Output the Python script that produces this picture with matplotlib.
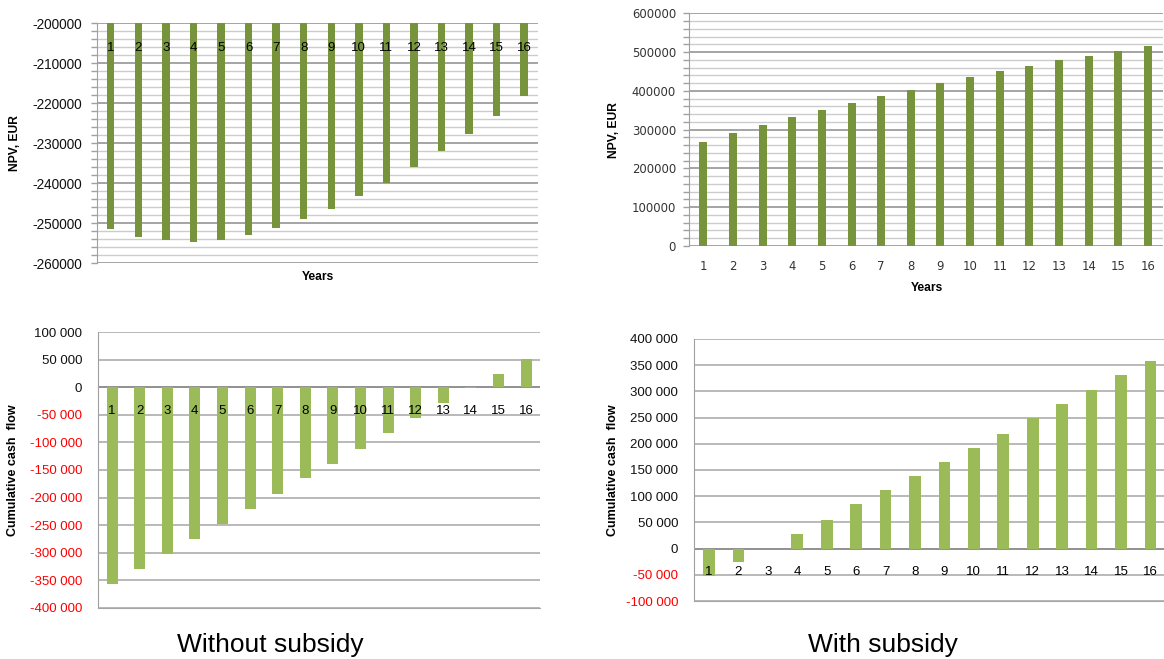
import matplotlib
matplotlib.use('Agg')
import matplotlib.pyplot as plt
from matplotlib.ticker import MultipleLocator
import numpy as np

plt.rcParams['font.family'] = ['Liberation Sans', 'DejaVu Sans']
plt.rcParams['axes.unicode_minus'] = False

years = list(range(1, 17))

# NPV, EUR (top row)
npv_no_subsidy = [-251500, -253500, -254300, -254600, -254100, -253000, -251250, -249000,
                  -246400, -243300, -240000, -235900, -231900, -227700, -223100, -218300]
npv_subsidy = [267000, 291000, 313000, 332000, 351000, 369000, 386000, 403000,
               420000, 436000, 450000, 465000, 479000, 491000, 503000, 515000]

# cumulative cash flow (bottom row)
cash_no_subsidy = [-356500, -329000, -303000, -275500, -247000, -220000, -192600, -165400,
                   -138800, -111600, -83200, -56000, -28200, -1600, 24400, 51600]
cash_subsidy = [-52800, -25400, -1000, 28000, 55300, 84600, 111300, 138700,
                165400, 192700, 219500, 248700, 276100, 302800, 330800, 357500]

dark_green = '#77933C'
light_green = '#9BBB59'
x = np.arange(len(years))


def space_fmt(v):
    return f"{v:,.0f}".replace(',', ' ')


fig = plt.figure(figsize=(11.64, 6.59), dpi=100)


def npv_axes(ax, ymin, ymax, major, minor):
    ax.set_xlim(-0.5, len(years) - 0.5)
    ax.set_ylim(ymin, ymax)
    ax.yaxis.set_major_locator(MultipleLocator(major))
    ax.yaxis.set_minor_locator(MultipleLocator(minor))
    ax.grid(which='major', axis='y', color='#8C8C8C', lw=1.1)
    ax.grid(which='minor', axis='y', color='#CCCCCC', lw=1.0)
    ax.set_axisbelow(True)
    for s in ['top', 'right', 'bottom']:
        ax.spines[s].set_visible(False)
    ax.spines['left'].set_color('#A0A0A0')
    ax.tick_params(axis='y', which='both', length=4, color='#A0A0A0', width=1)
    ax.tick_params(axis='x', length=0)


# --- top left: NPV without subsidy
ax1 = fig.add_axes([0.0833, 0.6005, 0.3789, 0.3642])
ax1.bar(x, npv_no_subsidy, width=0.27, color=dark_green, zorder=2)
npv_axes(ax1, -260000, -200000, 10000, 2000)
ax1.set_xticks([])
ax1.tick_params(axis='y', labelsize=9.8, labelcolor='#111111', pad=6.5)
for i, y in enumerate(years):
    ax1.text(i, 0.898, str(y), transform=ax1.get_xaxis_transform(),
             ha='center', va='center', fontsize=9.5, zorder=5)
ax1.set_ylabel('NPV, EUR', fontsize=8.7, fontweight='bold')
ax1.yaxis.set_label_coords(-0.186, 0.5)
ax1.yaxis.label.set_va('center')
ax1.set_xlabel('Years', fontsize=8.7, fontweight='bold')
ax1.xaxis.set_label_coords(0.501, -0.056)
ax1.xaxis.label.set_va('center')

# --- top right: NPV with subsidy
ax2 = fig.add_axes([0.5915, 0.6267, 0.4075, 0.3531])
ax2.bar(x, npv_subsidy, width=0.27, color=dark_green, zorder=2)
npv_axes(ax2, 0, 600000, 100000, 20000)
ax2.set_xticks(x, [str(y) for y in years])
ax2.tick_params(axis='x', pad=10)
ax2.tick_params(axis='y', pad=5)
for lbl in ax2.get_xticklabels() + ax2.get_yticklabels():
    lbl.set_fontfamily('DejaVu Sans')
    lbl.set_fontsize(8.4)
    lbl.set_color('#333333')
ax2.set_ylabel('NPV, EUR', fontsize=8.7, fontweight='bold')
ax2.yaxis.set_label_coords(-0.157, 0.5)
ax2.yaxis.label.set_va('center')
ax2.set_xlabel('Years', fontsize=8.7, fontweight='bold')
ax2.xaxis.set_label_coords(0.5025, -0.182)
ax2.xaxis.label.set_va('center')


def cash_axes(ax, values, ymin, ymax, label_offset):
    ax.bar(x, values, width=0.4, color=light_green, zorder=2)
    ax.set_xlim(-0.5, len(years) - 0.5)
    ax.set_ylim(ymin, ymax)
    ticks = np.arange(ymin, ymax + 1, 50000)
    ax.set_yticks(ticks, [space_fmt(t) for t in ticks])
    for lbl, t in zip(ax.get_yticklabels(), ticks):
        lbl.set_color('#FF0000' if t < 0 else '#111111')
    ax.tick_params(axis='y', length=0, labelsize=9.5, pad=11.5)
    ax.set_xticks([])
    ax.grid(axis='y', color='#A6A6A6', lw=1.1)
    ax.set_axisbelow(True)
    ax.axhline(0, color='#8C8C8C', lw=1.2, zorder=1)
    for s in ['top', 'right']:
        ax.spines[s].set_visible(False)
    ax.spines['bottom'].set_color('#A6A6A6')
    ax.spines['left'].set_color('#A0A0A0')
    for i, y in enumerate(years):
        ax.annotate(str(y), (i, 0), xytext=(0, label_offset), textcoords='offset points',
                    ha='center', va='center', fontsize=9.5, zorder=5)
    ax.set_ylabel('Cumulative cash  flow', fontsize=9, fontweight='bold')
    ax.yaxis.label.set_va('center')


# --- bottom left: cumulative cash flow without subsidy
ax3 = fig.add_axes([0.0844, 0.0774, 0.3794, 0.4188])
cash_axes(ax3, cash_no_subsidy, -400000, 100000, -17)
ax3.yaxis.set_label_coords(-0.192, 0.5)

# --- bottom right: cumulative cash flow with subsidy
ax4 = fig.add_axes([0.5965, 0.0880, 0.4045, 0.3976])
cash_axes(ax4, cash_subsidy, -100000, 400000, -16.5)
ax4.yaxis.set_label_coords(-0.173, 0.5)

fig.text(270 / 1164, 1 - 645 / 659, 'Without subsidy', ha='center', va='center', fontsize=19)
fig.text(883 / 1164, 1 - 645 / 659, 'With subsidy', ha='center', va='center', fontsize=19)

fig.savefig('out.png', dpi=100)
